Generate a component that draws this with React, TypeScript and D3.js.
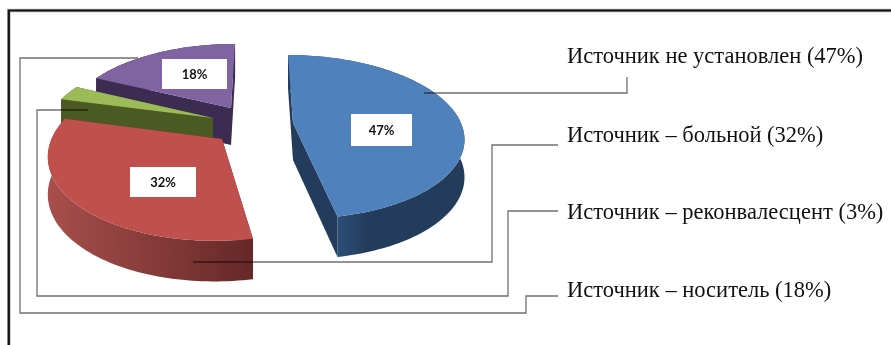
import React from "react";
import * as d3 from "d3";

// Shares of infection sources, in pie order starting at twelve o'clock.
const sources = ["Источник не установлен", "Источник – больной", "Источник – реконвалесцент", "Источник – носитель"];
const shares = [47, 32, 3, 18];
const legendText = ["Источник не установлен (47%)", "Источник – больной (32%)", "Источник – реконвалесцент (3%)", "Источник – носитель (18%)"];
const topColors = ["#4f81bd", "#c0504d", "#9bbb59", "#8064a2"];
const wallLeft = ["#2c4f78", "#a84f4c", "#4b5a23", "#3d2c52"];
const wallRight = ["#233c5b", "#652827", "#4b5a23", "#3d2c52"];
const sliceCentres: [number, number][] = [[293, 123], [222, 139], [213, 118], [231, 108]];
const sliceScaleX = [0.985, 1, 0.97, 0.95];
const sliceScaleY = [0.985, 1.05, 0.97, 0.93];
const legendBaselines = [63, 141.5, 219, 297];
const percentBoxes = [[351, 114, 61, 32], [130, 167, 66, 30], null, [162, 59, 65, 30]];
const leaderPaths = [
  [[424, 93], [627, 93], [627, 77]],
  [[193, 262], [492, 262], [492, 145], [558, 145]],
  [[88, 110], [37, 110], [37, 296], [508, 296], [508, 211], [558, 211]],
  [[138, 58], [20, 58], [20, 313], [526, 313], [526, 296], [558, 296]],
];

// Perspective of the tilted disc: unit-circle point to screen offset from a slice centre.
const cameraX = 259;
const radiusX = 170.5;
const radiusY = 80.6;
const tilt = 0.169;
const depth = 37;

type Pt = [number, number];

function project(angle: number, r: number, index: number, lowered: boolean): Pt {
  const centre = sliceCentres[index];
  const u = r * Math.sin(angle);
  const v = -r * Math.cos(angle);
  const w = 1 - tilt * v;
  const x0 = centre[0] - cameraX;
  const x = centre[0] + (radiusX * sliceScaleX[index] * u + x0) / w - x0;
  const y = centre[1] + (radiusY * sliceScaleY[index] * v) / w + (lowered ? depth / Math.sqrt(w) : 0);
  return [x, y];
}

const pieAngles = d3.pie<number>().sort(null)(shares);
const line = d3.line();

function arcSamples(a0: number, a1: number, index: number, lowered: boolean): Pt[] {
  const steps = Math.max(6, Math.ceil((a1 - a0) * 40));
  return d3.range(steps + 1).map((i) => project(a0 + ((a1 - a0) * i) / steps, 1, index, lowered));
}

function Slice({ index }: { index: number }) {
  const { startAngle: a0, endAngle: a1 } = pieAngles[index];
  const top = arcSamples(a0, a1, index, false);
  const bottom = arcSamples(a0, a1, index, true);
  const cBottom = project(0, 0, index, true);
  const cTop = project(0, 0, index, false);
  const edgeWall = (p: Pt, q: Pt) => line([cTop, p, q, cBottom]) + "Z";
  return (
    <g>
      <path d={edgeWall(top[0], bottom[0])} fill={wallRight[index]} />
      <path d={edgeWall(top[top.length - 1], bottom[bottom.length - 1])} fill={wallRight[index]} />
      <path d={line([...top, ...bottom.slice().reverse()]) + "Z"} fill={`url(#wall${index})`} />
      <path d={line([cTop, ...top]) + "Z"} fill={topColors[index]} />
    </g>
  );
}

export default function App() {
  return (
    <svg width={891} height={345} style={{ position: "absolute", left: 0, top: 0, display: "block", background: "#fff" }}>
      <defs>
        {sources.map((s, i) => (
          <linearGradient key={s} id={`wall${i}`} gradientUnits="objectBoundingBox" x1="0" x2="1" y1="0" y2="0">
            <stop offset="0" stopColor={i === 0 ? wallRight[0] : wallLeft[i]} />
            {i === 0 && <stop offset="0.28" stopColor={wallLeft[0]} />}
            {i === 0 && <stop offset="0.45" stopColor={wallRight[0]} />}
            <stop offset="1" stopColor={wallRight[i]} />
          </linearGradient>
        ))}
      </defs>
      {/* Outer frame, open at the right and bottom edges of the page */}
      <path d="M8.8 345V10.5H891" fill="none" stroke="#b5b5b5" strokeWidth={3.6} />
      <path d="M8.8 345V10.5H891" fill="none" stroke="#111" strokeWidth={2.2} />
      {[3, 2, 1, 0].map((i) => <Slice key={i} index={i} />)}
      {percentBoxes.map((b, i) =>
        b ? (
          <g key={i}>
            <rect x={b[0]} y={b[1]} width={b[2]} height={b[3]} fill="#fff" />
            <text x={b[0] + b[2] / 2} y={b[1] + b[3] / 2 + 4.5} textAnchor="middle" fontFamily="Lato" fontWeight={700} fontSize={13} fill="#111">
              {shares[i]}%
            </text>
          </g>
        ) : null
      )}
      {leaderPaths.map((p, i) => (
        <path key={i} d={line(p as Pt[]) as string} fill="none" stroke="#707070" strokeWidth={1.3} style={{ mixBlendMode: "multiply" }} />
      ))}
      {legendText.map((t, i) => (
        <text key={t} x={567} y={legendBaselines[i]} fontFamily="Liberation Serif" fontSize={22.5} fill="#111">
          {t}
        </text>
      ))}
    </svg>
  );
}
